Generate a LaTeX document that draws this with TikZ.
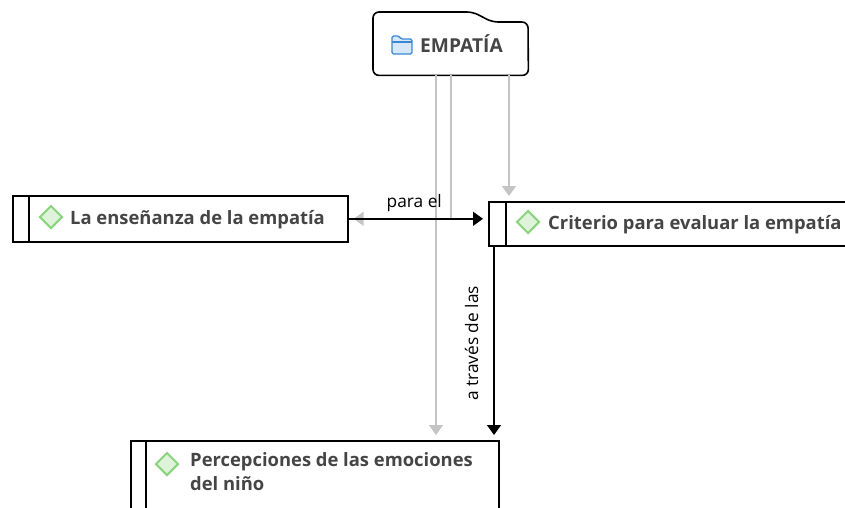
\documentclass[tikz,border=0pt]{standalone}
\usepackage{fontspec}
\setmainfont{Open Sans}
\usetikzlibrary{arrows.meta,shapes.geometric,calc}
\definecolor{txt}{HTML}{454545}
\definecolor{gline}{HTML}{C4C4C4}
\definecolor{dgreen}{HTML}{8CD37F}
\definecolor{lgreen}{HTML}{DFF3DA}
\definecolor{fblue}{HTML}{3A87D4}
\definecolor{lblue}{HTML}{D6E8F8}
\begin{document}
\begin{tikzpicture}[x=1pt,y=-1pt,
  topicbox/.style={draw=black, line width=1.6pt, inner sep=0pt, anchor=north west},
  topictext/.style={text=txt, font=\fontsize{18.4}{24}\selectfont\bfseries, inner sep=0pt, anchor=base west, align=left},
  gem/.style={diamond, draw=dgreen, fill=lgreen, line width=2pt, minimum size=23pt, inner sep=0pt},
  garrow/.style={draw=gline, line width=1.5pt, -{Triangle[width=14pt,length=10pt]}, shorten >=5pt},
  barrow/.style={draw=black, line width=1.5pt, -{Triangle[width=14pt,length=10pt]}, shorten >=5pt},
  linklbl/.style={text=black, font=\fontsize{17.3}{20}\selectfont, inner sep=3pt}
]
\clip (0,0) rectangle (845,508);

% central node
\node[inner sep=0pt, minimum width=155pt, minimum height=63pt, anchor=north west] (emp) at (373,12) {};
\draw[line width=1.6pt, rounded corners=6pt] (emp.south west) -- (emp.north west) -- (473,12) -- (492,22) -- (528,22) -- (emp.south east) -- cycle;
\draw[fblue, fill=lblue, line width=1.3pt, rounded corners=1.5pt] (392,54) -- (392,36) -- (399,36) -- (401,39) -- (412,39) -- (412,54) -- cycle;
\draw[fblue, line width=1.3pt] (392,42) -- (412,42);
\node[topictext, font=\fontsize{19.2}{22}\selectfont\bfseries] (empt) at (420,53) {EMPATÍA};

% topics
\node[topicbox, minimum width=335pt, minimum height=46pt] (ens) at (12,195) {};
\draw[line width=1.6pt] ([xshift=17pt]ens.north west) -- ([xshift=17pt]ens.south west);
\node[gem] (ensd) at (51,217) {};
\node[topictext] (enst) at (70,224) {La enseñanza de la empatía};

\node[topicbox, minimum width=370pt, minimum height=44pt] (crit) at (488,201) {};
\draw[line width=1.6pt] ([xshift=18pt]crit.north west) -- ([xshift=18pt]crit.south west);
\node[gem] (critd) at (528,222) {};
\node[topictext] (critt) at (548,229) {Criterio para evaluar la empatía};

\node[topicbox, minimum width=368pt, minimum height=90pt] (perc) at (130,440) {};
\draw[line width=1.6pt] ([xshift=16pt]perc.north west) -- ([xshift=16pt]perc.south west);
\node[gem] (percd) at (167,464) {};
\node[topictext, anchor=north west] (perct) at (190,452.5) {Percepciones de las emociones\\del niño};

% gray connectors
\draw[garrow] (436,0 |- emp.south) -- (436,0 |- perc.north);
\draw[garrow] (451,0 |- emp.south) |- (ens.east);
\draw[garrow] (509,0 |- emp.south) -- (509,0 |- crit.north);

% black connectors
\draw[barrow] (ens.east) -- (ens.east -| crit.west) node[midway, above, linklbl, xshift=-4pt, inner sep=6pt] (l1) {para el};
\draw[barrow] (494,0 |- crit.south) -- (494,0 |- perc.north) node[pos=0.5, rotate=90, anchor=south, linklbl, inner sep=15pt] (l2) {a través de las};
\end{tikzpicture}
\end{document}
